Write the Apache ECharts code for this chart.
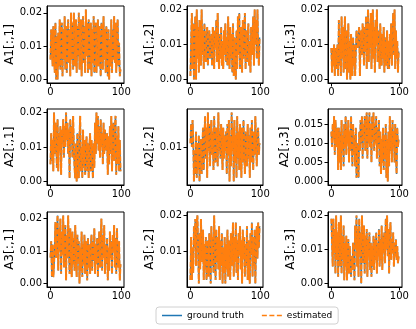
<!DOCTYPE html>
<html>
<head>
    <meta charset="UTF-8">
    <title>A estimates</title>
    <script src="https://cdn.jsdelivr.net/npm/echarts@6/dist/echarts.min.js"></script>
    <style type="text/css">
        html, body, #main {
            height: 100%;
            width: 100%;
            margin: 0;
            padding: 0;
            background: #fff;
        }
    </style>
</head>
<body>
<div id="main"></div>
<script type="text/javascript">
    // panel titles (y axis names), row by row
    var panelNames = ['A1[:,1]', 'A1[:,2]', 'A1[:,3]', 'A2[:,1]', 'A2[:,2]', 'A2[:,3]', 'A3[:,1]', 'A3[:,2]', 'A3[:,3]'];
    // y tick step per panel
    var tickSteps = [0.01, 0.01, 0.01, 0.01, 0.01, 0.005, 0.01, 0.01, 0.01];
    var xTicks = [0, 100];

    // ground truth columns (estimate lies on top of it)
    var a1c1 = [
        .006,.015,.011,.004,.016,.008,.002,.017,.000,.013,
        .000,.014,.004,.018,.003,.012,.017,.001,.015,.006,
        .019,.003,.016,.002,.011,.018,.005,.015,.001,.020,
        .006,.017,.003,.020,.010,.004,.018,.002,.016,.007,
        .020,.003,.014,.018,.001,.012,.019,.005,.016,.002,
        .021,.007,.017,.002,.018,.010,.003,.017,.001,.015,
        .005,.019,.002,.014,.017,.002,.011,.018,.004,.016,
        .007,.001,.017,.012,.003,.019,.006,.015,.002,.016,
        .010,.001,.015,.000,.012,.004,.018,.002,.015,.006,
        .019,.005,.017,.002,.013,.018,.004,.011,.001,.003];
    var a1c2 = [
        .001,.011,.019,.003,.016,.000,.013,.018,.000,.020,
        .006,.015,.002,.017,.011,.004,.020,.007,.014,.003,
        .016,.009,.005,.013,.015,.004,.012,.014,.006,.011,
        .013,.004,.015,.008,.003,.014,.009,.017,.005,.019,
        .008,.003,.013,.006,.015,.004,.011,.003,.014,.007,
        .016,.005,.012,.004,.018,.009,.003,.015,.006,.013,
        .002,.016,.001,.012,.004,.000,.014,.003,.018,.007,
        .019,.003,.015,.009,.002,.017,.006,.013,.019,.003,
        .014,.005,.012,.016,.004,.011,.002,.015,.007,.013,
        .018,.004,.020,.010,.017,.006,.020,.009,.004,.012];
    var a1c3 = [
        .009,.002,.009,.004,.010,.001,.009,.003,.007,.010,
        .001,.017,.004,.013,.001,.018,.006,.015,.002,.012,
        .018,.003,.014,.000,.008,.016,.002,.011,.000,.013,
        .005,.001,.012,.004,.010,.001,.008,.014,.011,.009,
        .013,.015,.001,.010,.014,.007,.016,.011,.004,.015,
        .008,.018,.003,.014,.020,.005,.016,.009,.019,.003,
        .013,.020,.006,.015,.002,.017,.010,.020,.005,.014,
        .008,.003,.016,.009,.004,.013,.006,.015,.002,.012,
        .008,.004,.014,.003,.011,.003,.013,.006,.016,.004,
        .012,.019,.007,.020,.003,.014,.006,.011,.002,.008];
    var a2c1 = [
        .005,.014,.006,.012,.003,.020,.008,.017,.011,.004,
        .018,.003,.014,.009,.016,.002,.015,.011,.018,.007,
        .016,.010,.020,.012,.017,.008,.015,.001,.018,.011,
        .016,.007,.019,.010,.004,.001,.011,.000,.014,.005,
        .001,.013,.019,.003,.010,.001,.015,.004,.012,.002,
        .009,.013,.003,.011,.001,.010,.014,.003,.012,.005,
        .001,.011,.004,.017,.008,.020,.011,.019,.009,.016,
        .007,.018,.010,.014,.005,.017,.008,.015,.011,.009,
        .014,.002,.013,.005,.016,.008,.019,.003,.012,.017,
        .006,.015,.019,.002,.013,.005,.016,.003,.012,.003];
    var a2c2 = [
        .011,.016,.010,.017,.012,.001,.009,.003,.014,.002,
        .011,.004,.013,.001,.008,.012,.003,.010,.015,.004,
        .013,.018,.007,.015,.002,.019,.009,.016,.005,.013,
        .017,.008,.014,.004,.018,.010,.006,.015,.012,.005,
        .019,.009,.014,.007,.016,.010,.004,.015,.007,.013,
        .009,.014,.003,.016,.008,.017,.001,.013,.005,.019,
        .009,.015,.001,.017,.006,.013,.002,.018,.007,.014,
        .004,.016,.010,.002,.015,.006,.017,.009,.003,.014,
        .010,.005,.016,.007,.013,.002,.015,.006,.017,.009,
        .004,.014,.008,.018,.011,.005,.013,.015,.008,.011];
    var a2c3 = [
        .013,.009,.015,.011,.017,.007,.016,.012,.009,.014,
        .003,.014,.005,.013,.003,.016,.008,.012,.004,.015,
        .009,.017,.007,.014,.010,.016,.005,.013,.008,.017,
        .009,.004,.015,.007,.012,.004,.014,.001,.010,.006,
        .001,.013,.008,.016,.010,.017,.006,.015,.011,.017,
        .008,.014,.018,.006,.016,.010,.018,.009,.015,.005,
        .017,.011,.018,.008,.015,.010,.017,.006,.014,.009,
        .016,.004,.013,.002,.011,.005,.014,.003,.012,.006,
        .015,.001,.011,.000,.013,.004,.017,.008,.014,.005,
        .016,.009,.013,.005,.015,.007,.002,.014,.009,.011];
    var a3c1 = [
        .008,.013,.002,.012,.002,.006,.011,.019,.008,.015,
        .021,.004,.017,.010,.020,.003,.016,.009,.021,.005,
        .014,.018,.001,.015,.008,.021,.011,.003,.017,.009,
        .002,.016,.006,.014,.004,.018,.010,.002,.015,.007,
        .013,.000,.011,.004,.016,.002,.012,.006,.015,.003,
        .013,.008,.001,.014,.005,.012,.003,.011,.015,.004,
        .013,.007,.017,.003,.012,.006,.014,.002,.011,.016,
        .005,.013,.020,.004,.015,.008,.018,.003,.012,.006,
        .014,.001,.011,.004,.016,.008,.013,.003,.015,.010,
        .018,.005,.014,.003,.017,.008,.005,.013,.001,.006];
    var a3c2 = [
        .002,.014,.002,.011,.004,.017,.011,.019,.006,.018,
        .020,.010,.001,.015,.005,.019,.011,.007,.016,.002,
        .012,.005,.014,.002,.008,.013,.003,.015,.009,.001,
        .017,.006,.014,.004,.020,.010,.002,.016,.007,.014,
        .005,.017,.002,.013,.006,.015,.001,.011,.004,.014,
        .001,.012,.005,.016,.003,.013,.007,.002,.015,.006,
        .012,.018,.003,.014,.007,.018,.004,.013,.002,.015,
        .009,.017,.005,.013,.001,.016,.008,.014,.003,.012,
        .006,.017,.002,.013,.005,.001,.015,.009,.018,.003,
        .014,.006,.016,.001,.012,.017,.008,.018,.011,.017];
    var a3c3 = [
        .019,.012,.005,.019,.009,.016,.003,.020,.007,.015,
        .002,.018,.010,.005,.020,.003,.014,.007,.017,.001,
        .012,.005,.014,.001,.008,.013,.003,.011,.005,.002,
        .008,.004,.012,.008,.001,.017,.011,.020,.005,.016,
        .002,.019,.009,.015,.000,.020,.010,.006,.017,.003,
        .014,.006,.016,.002,.013,.008,.015,.004,.012,.002,
        .011,.005,.014,.004,.013,.007,.015,.003,.012,.008,
        .016,.005,.013,.007,.017,.004,.014,.009,.015,.006,
        .019,.010,.020,.008,.016,.003,.014,.018,.007,.013,
        .009,.015,.005,.012,.008,.013,.007,.011,.006,.008];

    var truth = [a1c1, a1c2, a1c3, a2c1, a2c2, a2c3, a3c1, a3c2, a3c3];
    // estimated overlaps the ground truth in the figure
    var estimated = truth;

    // layout of the 3x3 panels (pixels)
    var colLeft = [47, 187, 328], colWidth = [77, 76, 74];
    var rowTop = [6, 109, 212], rowHeight = [77, 76, 75];

    var BLUE = '#1f77b4', ORANGE = '#ff7f0e';
    var FONT = 'DejaVu Sans';

    function pairs(arr) {
        return arr.map(function (v, i) { return [i, v]; });
    }

    var grids = [], xAxes = [], yAxes = [], series = [];
    for (var k = 0; k < 9; k++) {
        var r = Math.floor(k / 3), c = k % 3;
        var d = truth[k];
        var lo = Math.min.apply(null, d), hi = Math.max.apply(null, d);
        var pad = (hi - lo) * 0.05;
        var step = tickSteps[k];
        var dec = step < 0.01 ? 3 : 2;
        var yt = [];
        for (var t = Math.ceil((lo - pad) / step); t * step <= hi + pad; t++) yt.push(+(t * step).toFixed(4));

        grids.push({
            left: colLeft[c], top: rowTop[r], width: colWidth[c], height: rowHeight[r],
            show: true, borderColor: '#000', borderWidth: 1, backgroundColor: 'transparent'
        });
        xAxes.push({
            type: 'value', gridIndex: k, min: -4.95, max: 103.95,
            axisLine: {show: true, onZero: false, lineStyle: {color: '#000', width: 1}},
            axisTick: {show: true, length: 3.5, lineStyle: {color: '#000'}, customValues: xTicks},
            axisLabel: {color: '#000', fontSize: 10, fontFamily: FONT, margin: 4, customValues: xTicks},
            splitLine: {show: false}
        });
        yAxes.push({
            type: 'value', gridIndex: k, min: lo - pad, max: hi + pad,
            name: panelNames[k], nameLocation: 'middle', nameRotate: 90, nameGap: 29,
            nameTextStyle: {color: '#000', fontSize: 12, fontFamily: FONT},
            axisLine: {show: true, onZero: false, lineStyle: {color: '#000', width: 1}},
            axisTick: {show: true, length: 3.5, lineStyle: {color: '#000'}, customValues: yt},
            axisLabel: {
                color: '#000', fontSize: 10, fontFamily: FONT, margin: 5, customValues: yt,
                formatter: (function (n) { return function (v) { return v.toFixed(n); }; })(dec)
            },
            splitLine: {show: false}
        });
        series.push({
            name: 'ground truth', type: 'line', xAxisIndex: k, yAxisIndex: k,
            data: pairs(d), showSymbol: false, symbol: 'none',
            lineStyle: {color: BLUE, width: 1.5}, itemStyle: {color: BLUE}
        });
        series.push({
            name: 'estimated', type: 'line', xAxisIndex: k, yAxisIndex: k,
            data: pairs(estimated[k]), showSymbol: false, symbol: 'none',
            lineStyle: {color: ORANGE, width: 2, type: [5, 1.6]}, itemStyle: {color: ORANGE}
        });
    }

    var chart = echarts.init(document.getElementById('main'));
    chart.setOption({
        animation: false,
        grid: grids,
        xAxis: xAxes,
        yAxis: yAxes,
        legend: {
            data: [
                {name: 'ground truth', icon: 'path://M0,0h20v1.5h-20z', itemStyle: {color: BLUE}},
                {name: 'estimated', icon: 'path://M0,0h5v1.5h-5zM7.5,0h5v1.5h-5zM15,0h5v1.5h-5z', itemStyle: {color: ORANGE}}
            ],
            left: 156, top: 307,
            itemWidth: 20, itemHeight: 1.5, itemGap: 18,
            padding: [4, 6, 4, 6],
            borderColor: '#d0d0d0', borderWidth: 1, borderRadius: 3,
            textStyle: {color: '#000', fontSize: 9, fontFamily: FONT}
        },
        series: series
    });
</script>
</body>
</html>
